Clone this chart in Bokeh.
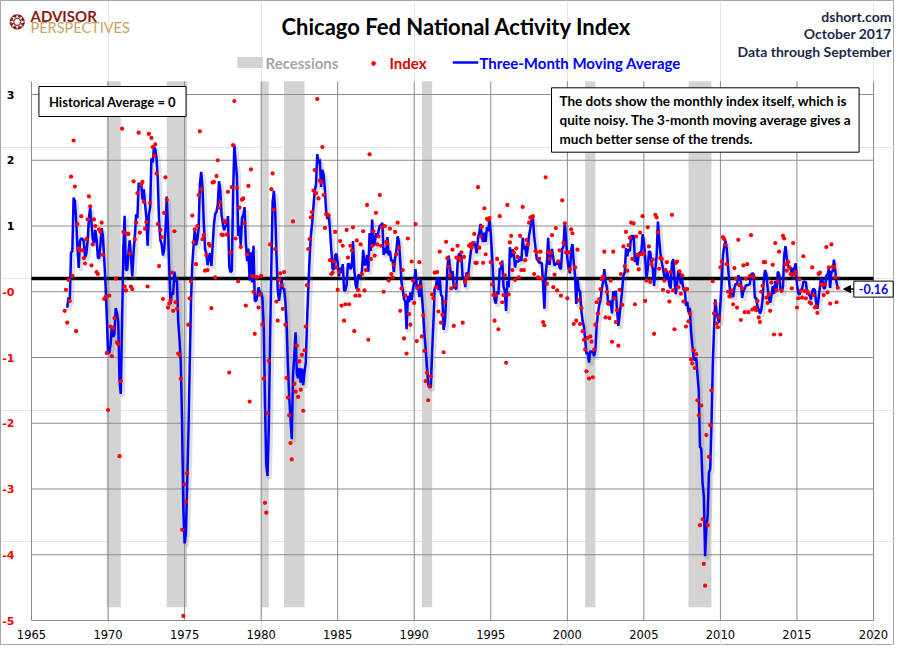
import numpy as np
import pandas as pd
from bokeh.plotting import figure
from bokeh.models import (ColumnDataSource, FixedTicker, Label, Arrow, NormalHead, Range1d,
                          LinearAxis, CustomJSTickFormatter)
from bokeh.transform import dodge
from bokeh.embed import file_html
from bokeh.resources import INLINE

# ---------------- data (monthly CFNAI) ----------------
idx_1967 = [-0.49, -0.17, -0.67, -0.02, -0.34, 1.55, 0.04, 2.10, 1.40, -0.80]  # Mar-Dec
idx_1968 = [0.83, 0.46, 0.43, 0.95, 0.43, 0.31, 0.23, 0.60, 0.90, 1.25, 1.10, 0.20]
idx_1969 = [0.52, 0.90, 0.80, 0.10, 0.07, 0.75, 0.71, 0.85, 0.36, -0.31, -0.28, -1.13]
idx_1970 = [-2.00, -0.26, -0.73, -1.18, -0.75, -0.60, 0.00, -0.97, -1.00, -2.70, -1.56, 2.28]
idx_1971 = [0.71, -0.12, -0.18, 0.68, 0.68, 0.38, -0.12, -0.16, 1.48, 0.60, 0.85, 1.30]
idx_1972 = [2.22, 0.70, 1.43, 1.47, 1.17, 0.76, 0.86, -0.12, 2.20, 1.15, 2.14, 2.00]
idx_1973 = [1.87, 2.04, 1.60, 0.83, 0.19, 0.74, 0.63, -0.31, 1.00, 1.54, 1.20, -0.44]
idx_1974 = [-0.38, -0.33, 0.09, -0.49, 0.72, -0.36, -0.46, -1.14, -1.16, -1.52, -3.82, -5.13]
idx_1975 = [-3.13, -3.39, -2.96, -0.70, -0.30, -0.04, 0.96, 0.55, 0.75, 0.22, 0.80, 1.27]
idx_1976 = [2.24, 1.36, 0.60, 0.66, 0.12, 0.36, 0.13, 0.53, 0.50, -0.45, 1.46, 1.47]
idx_1977 = [0.02, 1.56, 1.80, 1.08, 1.16, 0.67, 0.66, 0.88, 0.86, 0.67, 1.32, -1.43]
idx_1978 = [0.40, 1.39, 2.03, 2.70, 0.61, 1.38, -0.04, 1.08, 0.48, 1.20, 1.22, 0.84]
idx_1979 = [-0.41, 0.37, 1.41, -1.87, 1.66, 0.04, -0.20, -0.84, 0.02, 0.02, -0.44, -0.24]
idx_1980 = [0.04, -0.70, -1.52, -3.41, -3.56, -2.04, -1.25, 0.52, 1.36, 1.60, 1.05, 0.45]
idx_1981 = [-0.35, -0.64, -0.02, 0.08, -0.10, -0.46, 0.10, -0.70, -1.51, -1.81, -2.08, -2.50]
idx_1982 = [-2.75, 0.87, -1.60, -1.72, -1.02, -1.80, -1.26, -1.69, -1.16, -2.01, -1.09, -0.73]
idx_1983 = [-0.10, 0.45, 0.60, 0.93, 1.01, 1.34, 1.65, 1.30, 2.73, 1.22, 1.49, 1.47]
idx_1984 = [2.00, 1.27, 0.77, 0.98, 0.97, 0.96, 0.28, 0.07, 0.09, 0.26, 0.71, 0.17]
idx_1985 = [-0.17, 0.10, 0.57, -0.41, 0.50, -0.64, -0.39, 0.74, 0.32, -0.39, 0.50, 0.43]
idx_1986 = [0.78, -0.80, -0.26, 0.58, -0.17, -0.26, 0.52, 0.07, 0.72, -0.18, 0.13, 1.12]
idx_1987 = [-0.93, 1.89, 0.30, 0.50, 0.72, 0.35, 1.00, 0.52, 0.64, 1.27, 0.50, 0.78]
idx_1988 = [-0.20, 0.80, 0.56, 0.53, -0.03, 0.76, 0.07, 0.02, 0.21, 0.71, 0.37, 0.85]
idx_1989 = [0.47, -0.49, -0.15, 0.13, -0.91, -0.26, -1.14, 0.61, -0.54, -0.70, 0.26, -0.03]
idx_1990 = [-0.37, 0.83, -0.95, -0.14, 0.25, -0.12, -0.88, -0.56, -1.10, -1.56, -1.43, -1.85]
idx_1991 = [-1.64, -1.49, -0.24, -0.30, 0.09, -0.13, 0.10, -0.50, 0.41, -0.67, -0.55, -1.12]
idx_1992 = [-0.35, 0.56, 0.31, 0.18, 0.05, -0.15, 0.44, -0.72, -0.10, 0.32, 0.50, 0.32]
idx_1993 = [0.28, 0.40, -0.67, 0.33, -0.05, 0.01, 0.05, 0.50, 0.52, 0.47, 0.54, 0.68]
idx_1994 = [0.24, 0.24, 1.39, 0.47, 0.64, 0.79, 0.24, 1.07, 0.37, 0.91, 0.89, 0.92]
idx_1995 = [0.25, -0.09, -0.25, -0.64, -0.25, 0.30, -0.77, 0.95, 0.23, -0.36, -0.25, 0.05]
idx_1996 = [-1.28, 1.12, -0.24, 0.55, 0.65, 0.13, 0.40, -0.02, 0.46, 0.33, 0.02, 0.65]
idx_1997 = [0.13, 1.09, 0.13, 0.28, 0.59, 0.52, 0.85, 0.93, 0.92, 0.95, 0.07, 0.42]
idx_1998 = [0.40, 0.02, 0.30, 0.41, 0.00, -0.66, -0.71, 1.54, -0.08, 0.40, 0.30, 0.39]
idx_1999 = [0.66, -0.13, 0.06, 0.77, -0.18, 0.26, 0.43, -0.26, 1.19, 0.54, 0.84, 0.40]
idx_2000 = [-0.30, 0.40, 0.14, 0.75, 0.69, -0.69, 0.17, -0.64, 0.44, -0.33, -0.69, -0.45]
idx_2001 = [-0.80, -0.93, -1.08, -1.41, -0.90, -1.52, -0.88, -0.96, -1.50, -1.08, -0.70, -0.36]
idx_2002 = [-0.53, -0.31, -0.16, -0.01, 0.03, 0.41, -0.59, -0.20, -0.38, -0.60, -0.03, -0.96]
idx_2003 = [0.41, -0.30, -0.66, -0.48, -1.02, -0.17, 0.07, -0.40, 0.49, 0.19, 0.71, 0.12]
idx_2004 = [0.51, 0.62, 0.85, 0.30, 0.84, -0.39, 0.64, 0.36, 0.14, 0.70, 0.37, 0.95]
idx_2005 = [0.38, -0.34, -0.03, 0.78, 0.49, -0.05, 0.22, 0.29, -0.84, 0.97, 0.93, 0.70]
idx_2006 = [0.15, 0.31, 0.30, -0.17, -0.03, 0.13, 0.25, -0.20, -0.35, 0.10, 0.97, -0.18]
idx_2007 = [-0.77, 0.24, 0.26, -0.13, 0.11, -0.23, 0.05, -0.35, -0.16, -0.73, -0.16, -0.65]
idx_2008 = [-0.53, -1.23, -1.29, -1.09, -1.36, -1.15, -1.85, -2.08, -3.75, -1.93, -3.66, -4.34]
idx_2009 = [-4.67, -2.38, -3.75, -2.71, -2.23, -1.70, -0.04, -0.53, -0.38, -0.68, -0.74, -0.59]
idx_2010 = [0.17, 0.26, 0.63, 0.60, 0.51, 0.22, -0.20, -0.27, -0.27, -0.18, -0.39, 0.16]
idx_2011 = [0.00, -0.44, 0.59, -0.10, -0.63, -0.15, 0.20, -0.51, 0.00, 0.22, -0.51, 0.04]
idx_2012 = [0.66, -0.47, 0.03, -0.44, -0.48, -0.34, -0.59, -0.66, -0.20, -0.11, 0.25, 0.25]
idx_2013 = [-0.29, -0.37, -0.24, -0.49, -0.06, 0.21, -0.85, 0.54, -0.18, -0.04, 0.41, -0.85]
idx_2014 = [-0.18, 0.65, 0.61, 0.22, 0.12, 0.25, 0.17, 0.07, -0.15, 0.54, 0.06, 0.10]
idx_2015 = [-0.44, -0.30, -0.01, -0.19, -0.29, 0.34, -0.19, -0.30, -0.19, -0.22, -0.36, -0.38]
idx_2016 = [0.17, -0.25, -0.44, -0.42, -0.52, 0.07, 0.09, -0.09, -0.10, -0.25, -0.09, 0.48]
idx_2017 = [-0.21, 0.17, -0.38, 0.52, 0.18, 0.17, 0.02, -0.36, -0.14]  # Jan-Sep

first_month = "1967-03-01"

recession_start = ["1969-12", "1973-11", "1980-01", "1981-07", "1990-07", "2001-03", "2007-12"]
recession_end = ["1970-11", "1975-03", "1980-07", "1982-11", "1991-03", "2001-11", "2009-06"]

x_ticks = [1965, 1970, 1975, 1980, 1985, 1990, 1995, 2000, 2005, 2010, 2015, 2020]
y_ticks = [-5.2, -4.2, -3.2, -2.2, -1.2, -0.2, 0.8, 1.8, 2.8]
y_top = 3.0
recession_bottom = -5.0
hist_avg = 0.0

title_text = "Chicago Fed National Activity Index"
source_lines = ["dshort.com", "October 2017", "Data through September"]
legend_texts = ["Recessions", "Index", "Three-Month Moving Average"]
note_text = ("The dots show the monthly  index itself, which is\n"
             "quite noisy. The 3-month moving average gives a\n"
             "much better sense of the trends.")
avg_text = "Historical Average = 0"

# ---------------- build series ----------------
years = [idx_1967, idx_1968, idx_1969, idx_1970, idx_1971, idx_1972, idx_1973, idx_1974,
         idx_1975, idx_1976, idx_1977, idx_1978, idx_1979, idx_1980, idx_1981, idx_1982,
         idx_1983, idx_1984, idx_1985, idx_1986, idx_1987, idx_1988, idx_1989, idx_1990,
         idx_1991, idx_1992, idx_1993, idx_1994, idx_1995, idx_1996, idx_1997, idx_1998,
         idx_1999, idx_2000, idx_2001, idx_2002, idx_2003, idx_2004, idx_2005, idx_2006,
         idx_2007, idx_2008, idx_2009, idx_2010, idx_2011, idx_2012, idx_2013, idx_2014,
         idx_2015, idx_2016, idx_2017]
vals = np.concatenate([np.array(v, dtype=float) for v in years])
dates = pd.date_range(first_month, periods=len(vals), freq="MS")
t = np.asarray(dates.year + (dates.month - 1) / 12.0, dtype=float)
ma = pd.Series(vals).rolling(3).mean().to_numpy()
src = ColumnDataSource(dict(t=t, v=vals, ma=ma))


def dec(s):
    y, m = s.split("-")
    return int(y) + (int(m) - 1) / 12.0


rec = ColumnDataSource(dict(left=[dec(s) for s in recession_start],
                            right=[dec(s) for s in recession_end]))

# ---------------- geometry: data box -> pixel box on a full-canvas frame ----------------
W, H = 894, 645
XA, XB = x_ticks[0], x_ticks[-1]
YA, YB = y_ticks[0], y_ticks[-1]
PX_A, PX_B = 31, 873      # pixel x of 1965 / 2020
PY_A, PY_B = 620, 94      # pixel y of -5.2 / 2.8
sx = (PX_B - PX_A) / (XB - XA)
sy = (PY_A - PY_B) / (YB - YA)


def X(px):
    return XA + (px - PX_A) / sx


def Y(py):
    return YA + (PY_A - py) / sy


p = figure(width=W, height=H, x_range=Range1d(X(0), X(W)), y_range=Range1d(Y(H), Y(0)),
           output_backend="svg", toolbar_location=None,
           x_axis_location=None, y_axis_location=None, min_border=0,
           background_fill_color="white", border_fill_color="white")
p.outline_line_color = "#a6a6a6"
p.outline_line_width = 1

GRID = "#8c8c8c"

# recessions
p.quad(left="left", right="right", bottom=recession_bottom, top=y_top, source=rec,
       fill_color="#d3d3d3", line_color=None)

# grid lines limited to the plotting area
p.segment(x0=x_ticks, x1=x_ticks, y0=[YA] * len(x_ticks), y1=[y_top] * len(x_ticks),
          line_color=GRID, line_width=1)
p.segment(x0=[XA] * len(y_ticks), x1=[XB] * len(y_ticks), y0=y_ticks, y1=y_ticks,
          line_color=GRID, line_width=1)

# axes drawn at fixed data locations
xax = LinearAxis(fixed_location=YA, ticker=FixedTicker(ticks=x_ticks), bounds=(XA, XB),
                 axis_line_color=None, major_tick_line_color=None, minor_tick_line_color=None,
                 major_label_standoff=3, major_label_text_font="DejaVu Sans",
                 major_label_text_font_size="11.5px", major_label_text_color="black",
                 formatter=CustomJSTickFormatter(code="return tick.toFixed(0);"))
p.add_layout(xax, "below")
for ticks, color in (([v for v in y_ticks if v < 0], "#ff0000"),
                     ([v for v in y_ticks if v > 0], "black")):
    yax = LinearAxis(fixed_location=XA, ticker=FixedTicker(ticks=ticks), bounds=(YA, y_top),
                     axis_line_color=None, major_tick_line_color=None,
                     minor_tick_line_color=None, major_label_standoff=11,
                     major_label_text_font="DejaVu Sans", major_label_text_font_style="bold",
                     major_label_text_font_size="11px", major_label_text_color=color,
                     formatter=CustomJSTickFormatter(code="return tick.toFixed(0);"))
    p.add_layout(yax, "left")

# historical average line
p.line(x=[XA, XB], y=[hist_avg, hist_avg], line_color="black", line_width=3.5)

# moving average with soft shadow
p.line(x=dodge("t", 0.13), y=dodge("ma", -0.045), source=src,
       line_color="#808080", line_alpha=0.25, line_width=4.5)
p.line(x="t", y="ma", source=src, line_color="#0000ff", line_width=2.5)
# monthly index dots
p.scatter(x="t", y="v", source=src, size=4.2, fill_color="#ff0000", line_color=None)


def lab(px, py, text, size, color, align="left", font="Lato", style="bold", **kw):
    p.add_layout(Label(x=X(px), y=Y(py), text=text, text_align=align, text_baseline="middle",
                       text_font=font, text_font_style=style, text_font_size=size,
                       text_color=color, **kw))


# logo
lab(17, 21, "\u2742", "20px", "#8b1a1a", align="center", font="DejaVu Sans", style="normal")
lab(30, 15.5, "ADVISOR", "15px", "#8b1a1a")
lab(30, 26.5, "PERSPECTIVES", "14.5px", "#c9a35f", style="normal")

# title
lab(456, 26, title_text, "22px", "black", align="center", style="bold")

# right header
for py, txt in zip([15.5, 33, 51], source_lines):
    lab(891, py, txt, "14px", "#1b2a49", align="right")

# legend
lab(249.5, 62, "\u00a0" * 8, "10px", "#d3d3d3", align="center", font="DejaVu Sans",
    style="normal", background_fill_color="#d3d3d3")
lab(265, 62, legend_texts[0], "15px", "#a6a6a6")
lab(373, 62, "\u25cf", "6px", "#ff0000", align="center", font="DejaVu Sans", style="normal")
lab(389, 62, legend_texts[1], "15px", "#e00000")
lab(465, 62, "\u00a0" * 40, "2px", "#0000ff", align="center", font="DejaVu Sans",
    style="normal", background_fill_color="#0000ff")
lab(479, 62, legend_texts[2], "15px", "#0000ff")


def boxed(px, py, text, size, color, align, pad, shadow=4):
    common = dict(x=X(px), y=Y(py), text=text, text_align=align, text_baseline="middle",
                  text_font="Lato", text_font_style="bold", text_font_size=size, padding=pad)
    p.add_layout(Label(**common, x_offset=shadow, y_offset=-shadow, text_alpha=0.0,
                       background_fill_color="#7f7f7f", background_fill_alpha=0.45))
    p.add_layout(Label(**common, text_color=color, background_fill_color="white",
                       border_line_color="black", border_line_width=1))


boxed(112, 101, avg_text, "13px", "black", "center", (10, 7))
boxed(551, 119.5, note_text, "13.5px", "black", "left", (8, 5))

# last value callout
last_ma = float(ma[-1])
p.add_layout(Arrow(end=NormalHead(size=7, fill_color="black", line_color="black"),
                   x_start=X(855), y_start=last_ma, x_end=X(843), y_end=last_ma,
                   line_color="black", line_width=1.5))
common = dict(x=X(873), y=last_ma, text=f"{last_ma:.2f}", text_align="center",
              text_baseline="middle", text_font="Lato", text_font_style="bold",
              text_font_size="12.5px", padding=(5, 3))
p.add_layout(Label(**common, x_offset=3, y_offset=-3, text_alpha=0.0,
                   background_fill_color="#7f7f7f", background_fill_alpha=0.45))
p.add_layout(Label(**common, text_color="#0000ff", background_fill_color="white",
                   border_line_color="black", border_line_width=1))

open("out.html", "w").write(file_html(p, INLINE))
